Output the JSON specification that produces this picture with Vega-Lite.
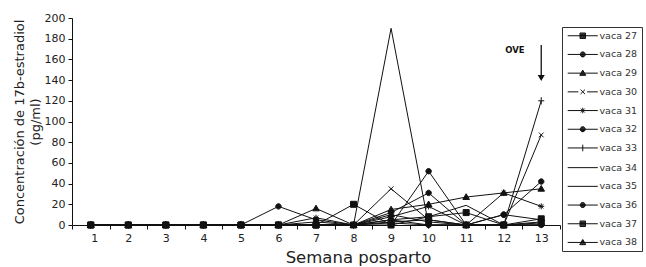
{
  "$schema": "https://vega.github.io/schema/vega-lite/v6.json",
  "width": 488,
  "height": 207,
  "autosize": {"type": "none"},
  "padding": {"left": 72, "top": 18, "right": 86, "bottom": 42},
  "background": "white",
  "config": {
    "view": {"stroke": null},
    "font": "DejaVu Sans",
    "axis": {"domainColor": "#111", "tickColor": "#111", "labelColor": "#222", "titleColor": "#222", "grid": false, "labelFont": "DejaVu Sans", "titleFont": "DejaVu Sans", "titleFontWeight": "normal"}
  },
  "datasets": {
    "main": [
      {"week":1,"cow":"vaca 28","value":0},{"week":2,"cow":"vaca 28","value":0},{"week":3,"cow":"vaca 28","value":0},{"week":4,"cow":"vaca 28","value":0},{"week":5,"cow":"vaca 28","value":0},{"week":6,"cow":"vaca 28","value":18},{"week":7,"cow":"vaca 28","value":5},{"week":8,"cow":"vaca 28","value":0},{"week":9,"cow":"vaca 28","value":5},{"week":10,"cow":"vaca 28","value":0},{"week":11,"cow":"vaca 28","value":0},{"week":12,"cow":"vaca 28","value":0},{"week":13,"cow":"vaca 28","value":0},
      {"week":1,"cow":"vaca 29","value":0},{"week":2,"cow":"vaca 29","value":0},{"week":3,"cow":"vaca 29","value":0},{"week":4,"cow":"vaca 29","value":0},{"week":5,"cow":"vaca 29","value":0},{"week":6,"cow":"vaca 29","value":0},{"week":7,"cow":"vaca 29","value":16},{"week":8,"cow":"vaca 29","value":0},{"week":9,"cow":"vaca 29","value":10},{"week":10,"cow":"vaca 29","value":3},{"week":11,"cow":"vaca 29","value":0},{"week":12,"cow":"vaca 29","value":0},{"week":13,"cow":"vaca 29","value":3},
      {"week":1,"cow":"vaca 30","value":0},{"week":2,"cow":"vaca 30","value":0},{"week":3,"cow":"vaca 30","value":0},{"week":4,"cow":"vaca 30","value":0},{"week":5,"cow":"vaca 30","value":0},{"week":6,"cow":"vaca 30","value":0},{"week":7,"cow":"vaca 30","value":3},{"week":8,"cow":"vaca 30","value":0},{"week":9,"cow":"vaca 30","value":35},{"week":10,"cow":"vaca 30","value":5},{"week":11,"cow":"vaca 30","value":0},{"week":12,"cow":"vaca 30","value":0},{"week":13,"cow":"vaca 30","value":87},
      {"week":1,"cow":"vaca 31","value":0},{"week":2,"cow":"vaca 31","value":0},{"week":3,"cow":"vaca 31","value":0},{"week":4,"cow":"vaca 31","value":0},{"week":5,"cow":"vaca 31","value":0},{"week":6,"cow":"vaca 31","value":0},{"week":7,"cow":"vaca 31","value":7},{"week":8,"cow":"vaca 31","value":0},{"week":9,"cow":"vaca 31","value":8},{"week":10,"cow":"vaca 31","value":18},{"week":11,"cow":"vaca 31","value":0},{"week":12,"cow":"vaca 31","value":31},{"week":13,"cow":"vaca 31","value":18},
      {"week":1,"cow":"vaca 32","value":0},{"week":2,"cow":"vaca 32","value":0},{"week":3,"cow":"vaca 32","value":0},{"week":4,"cow":"vaca 32","value":0},{"week":5,"cow":"vaca 32","value":0},{"week":6,"cow":"vaca 32","value":0},{"week":7,"cow":"vaca 32","value":0},{"week":8,"cow":"vaca 32","value":0},{"week":9,"cow":"vaca 32","value":12},{"week":10,"cow":"vaca 32","value":31},{"week":11,"cow":"vaca 32","value":0},{"week":12,"cow":"vaca 32","value":10},{"week":13,"cow":"vaca 32","value":5},
      {"week":1,"cow":"vaca 33","value":0},{"week":2,"cow":"vaca 33","value":0},{"week":3,"cow":"vaca 33","value":0},{"week":4,"cow":"vaca 33","value":0},{"week":5,"cow":"vaca 33","value":0},{"week":6,"cow":"vaca 33","value":0},{"week":7,"cow":"vaca 33","value":0},{"week":8,"cow":"vaca 33","value":0},{"week":9,"cow":"vaca 33","value":2},{"week":10,"cow":"vaca 33","value":0},{"week":11,"cow":"vaca 33","value":0},{"week":12,"cow":"vaca 33","value":0},{"week":13,"cow":"vaca 33","value":120},
      {"week":1,"cow":"vaca 34","value":0},{"week":2,"cow":"vaca 34","value":0},{"week":3,"cow":"vaca 34","value":0},{"week":4,"cow":"vaca 34","value":0},{"week":5,"cow":"vaca 34","value":0},{"week":6,"cow":"vaca 34","value":0},{"week":7,"cow":"vaca 34","value":0},{"week":8,"cow":"vaca 34","value":0},{"week":9,"cow":"vaca 34","value":190},{"week":10,"cow":"vaca 34","value":0},{"week":11,"cow":"vaca 34","value":0},{"week":12,"cow":"vaca 34","value":0},{"week":13,"cow":"vaca 34","value":0},
      {"week":1,"cow":"vaca 35","value":0},{"week":2,"cow":"vaca 35","value":0},{"week":3,"cow":"vaca 35","value":0},{"week":4,"cow":"vaca 35","value":0},{"week":5,"cow":"vaca 35","value":0},{"week":6,"cow":"vaca 35","value":0},{"week":7,"cow":"vaca 35","value":0},{"week":8,"cow":"vaca 35","value":0},{"week":9,"cow":"vaca 35","value":5},{"week":10,"cow":"vaca 35","value":8},{"week":11,"cow":"vaca 35","value":19},{"week":12,"cow":"vaca 35","value":0},{"week":13,"cow":"vaca 35","value":0},
      {"week":1,"cow":"vaca 36","value":0},{"week":2,"cow":"vaca 36","value":0},{"week":3,"cow":"vaca 36","value":0},{"week":4,"cow":"vaca 36","value":0},{"week":5,"cow":"vaca 36","value":0},{"week":6,"cow":"vaca 36","value":0},{"week":7,"cow":"vaca 36","value":0},{"week":8,"cow":"vaca 36","value":0},{"week":9,"cow":"vaca 36","value":0},{"week":10,"cow":"vaca 36","value":52},{"week":11,"cow":"vaca 36","value":0},{"week":12,"cow":"vaca 36","value":10},{"week":13,"cow":"vaca 36","value":42},
      {"week":1,"cow":"vaca 38","value":0},{"week":2,"cow":"vaca 38","value":0},{"week":3,"cow":"vaca 38","value":0},{"week":4,"cow":"vaca 38","value":0},{"week":5,"cow":"vaca 38","value":0},{"week":6,"cow":"vaca 38","value":0},{"week":7,"cow":"vaca 38","value":0},{"week":8,"cow":"vaca 38","value":0},{"week":9,"cow":"vaca 38","value":15},{"week":10,"cow":"vaca 38","value":20},{"week":11,"cow":"vaca 38","value":27},{"week":12,"cow":"vaca 38","value":31},{"week":13,"cow":"vaca 38","value":35},
      {"week":1,"cow":"vaca 37","value":0},{"week":2,"cow":"vaca 37","value":0},{"week":3,"cow":"vaca 37","value":0},{"week":4,"cow":"vaca 37","value":0},{"week":5,"cow":"vaca 37","value":0},{"week":6,"cow":"vaca 37","value":0},{"week":7,"cow":"vaca 37","value":0},{"week":8,"cow":"vaca 37","value":20},{"week":9,"cow":"vaca 37","value":0},{"week":10,"cow":"vaca 37","value":8},{"week":11,"cow":"vaca 37","value":12},{"week":12,"cow":"vaca 37","value":0},{"week":13,"cow":"vaca 37","value":6},
      {"week":1,"cow":"vaca 27","value":0},{"week":2,"cow":"vaca 27","value":0},{"week":3,"cow":"vaca 27","value":0},{"week":4,"cow":"vaca 27","value":0},{"week":5,"cow":"vaca 27","value":0},{"week":6,"cow":"vaca 27","value":0},{"week":7,"cow":"vaca 27","value":0},{"week":8,"cow":"vaca 27","value":0},{"week":9,"cow":"vaca 27","value":3},{"week":10,"cow":"vaca 27","value":5},{"week":11,"cow":"vaca 27","value":0},{"week":12,"cow":"vaca 27","value":0},{"week":13,"cow":"vaca 27","value":2}
    ],
    "arrow": [{"week": 13, "top": 174, "bottom": 144}],
    "head": [{"week": 13, "value": 142}],
    "label": [{"week": 12.3, "value": 169, "text": "OVE"}]
  },
  "encoding": {
    "x": {
      "field": "week", "type": "quantitative",
      "scale": {"domain": [0.5, 13.5], "nice": false, "zero": false},
      "axis": {
        "title": "Semana posparto", "titleFontSize": 16.5, "titleX": 286, "titlePadding": 6,
        "values": [0.5,1.5,2.5,3.5,4.5,5.5,6.5,7.5,8.5,9.5,10.5,11.5,12.5,13.5],
        "labelExpr": "datum.value < 13 ? format(datum.value + 0.5, 'd') : ''",
        "labelOffset": 18.77, "labelFontSize": 11, "tickSize": 4, "labelPadding": 3
      }
    },
    "y": {
      "field": "value", "type": "quantitative",
      "scale": {"domain": [0, 200], "nice": false},
      "axis": {
        "title": ["Concentración de 17b-estradiol", "(pg/ml)"],
        "titleFontSize": 13, "titleLineHeight": 16, "titlePadding": 2,
        "values": [0,20,40,60,80,100,120,140,160,180,200],
        "labelFontSize": 11, "tickSize": 4, "labelPadding": 3
      }
    }
  },
  "resolve": {"scale": {"shape": "independent"}, "legend": {"shape": "independent"}},
  "layer": [
    {
      "data": {"name": "main"},
      "mark": {"type": "line", "color": "#111", "strokeWidth": 1},
      "encoding": {"detail": {"field": "cow"}}
    },
    {
      "data": {"name": "main"},
      "mark": {"type": "point", "filled": true, "color": "#111", "stroke": "#111", "strokeWidth": 1, "size": 36, "opacity": 1},
      "encoding": {
        "shape": {
          "field": "cow", "type": "nominal",
          "scale": {
            "domain": ["vaca 27","vaca 28","vaca 29","vaca 30","vaca 31","vaca 32","vaca 33","vaca 34","vaca 35","vaca 36","vaca 37","vaca 38"],
            "range": [
              "M-1,-1H1V1H-1Z",
              "M-0.9,0A0.9,0.9,0,1,1,0.9,0A0.9,0.9,0,1,1,-0.9,0Z",
              "M0,-1.1L1.1,0.8H-1.1Z",
              "M-0.8,-0.8L0.8,0.8M0.8,-0.8L-0.8,0.8",
              "M-1,0H1M0,-1V1M-0.7,-0.7L0.7,0.7M0.7,-0.7L-0.7,0.7",
              "M-0.9,0A0.9,0.9,0,1,1,0.9,0A0.9,0.9,0,1,1,-0.9,0Z",
              "M-1,0H1M0,-1.2V1.2",
              "M0,0",
              "M0,0",
              "M-0.9,0A0.9,0.9,0,1,1,0.9,0A0.9,0.9,0,1,1,-0.9,0Z",
              "M-1,-1H1V1H-1Z",
              "M0,-1.1L1.1,0.8H-1.1Z"
            ]
          },
          "legend": null
        }
      }
    },
    {
      "data": {"name": "main"},
      "mark": {"type": "point", "filled": false, "color": "#111", "strokeWidth": 1, "size": 30, "opacity": 0},
      "encoding": {
        "shape": {
          "field": "cow", "type": "nominal",
          "scale": {
            "domain": ["vaca 27","vaca 28","vaca 29","vaca 30","vaca 31","vaca 32","vaca 33","vaca 34","vaca 35","vaca 36","vaca 37","vaca 38"],
            "range": [
              "M-5.5,0H5.5M-1,-1H1V1H-1ZM-1,-0.7H1M-1,-0.4H1M-1,-0.1H1M-1,0.2H1M-1,0.5H1M-1,0.8H1",
              "M-5.5,0H5.5M-0.9,0A0.9,0.9,0,1,1,0.9,0A0.9,0.9,0,1,1,-0.9,0ZM-0.5,-0.75H0.5M-0.77,-0.45H0.77M-0.89,-0.15H0.89M-0.89,0.15H0.89M-0.77,0.45H0.77M-0.5,0.75H0.5",
              "M-5.5,0H5.5M0,-1.1L1.1,0.8H-1.1ZM-0.26,-0.65H0.26M-0.43,-0.35H0.43M-0.61,-0.05H0.61M-0.78,0.25H0.78M-0.95,0.55H0.95",
              "M-5.5,0H-1.6M1.6,0H5.5M-0.8,-0.8L0.8,0.8M0.8,-0.8L-0.8,0.8",
              "M-5.5,0H5.5M0,-1V1M-0.7,-0.7L0.7,0.7M0.7,-0.7L-0.7,0.7",
              "M-5.5,0H5.5M-0.9,0A0.9,0.9,0,1,1,0.9,0A0.9,0.9,0,1,1,-0.9,0ZM-0.5,-0.75H0.5M-0.77,-0.45H0.77M-0.89,-0.15H0.89M-0.89,0.15H0.89M-0.77,0.45H0.77M-0.5,0.75H0.5",
              "M-5.5,0H5.5M0,-1.2V1.2",
              "M-5.5,0H5.5",
              "M-5.5,0H5.5",
              "M-5.5,0H5.5M-0.9,0A0.9,0.9,0,1,1,0.9,0A0.9,0.9,0,1,1,-0.9,0ZM-0.5,-0.75H0.5M-0.77,-0.45H0.77M-0.89,-0.15H0.89M-0.89,0.15H0.89M-0.77,0.45H0.77M-0.5,0.75H0.5",
              "M-5.5,0H5.5M-1,-1H1V1H-1ZM-1,-0.7H1M-1,-0.4H1M-1,-0.1H1M-1,0.2H1M-1,0.5H1M-1,0.8H1",
              "M-5.5,0H5.5M0,-1.1L1.1,0.8H-1.1ZM-0.26,-0.65H0.26M-0.43,-0.35H0.43M-0.61,-0.05H0.61M-0.78,0.25H0.78M-0.95,0.55H0.95"
            ]
          },
          "legend": {
            "title": null, "orient": "none", "legendX": 490, "legendY": 9,
            "padding": 4, "strokeColor": "#333",
            "symbolSize": 30, "symbolOffset": 12, "labelOffset": 12,
            "labelFontSize": 9.5, "labelColor": "#333", "rowPadding": 7.7,
            "symbolStrokeWidth": 1, "symbolStrokeColor": "#111", "symbolOpacity": 1
          }
        }
      }
    },
    {
      "data": {"name": "arrow"},
      "mark": {"type": "rule", "color": "#111", "strokeWidth": 1.3},
      "encoding": {"y": {"field": "top", "type": "quantitative"}, "y2": {"field": "bottom"}}
    },
    {
      "data": {"name": "head"},
      "mark": {"type": "point", "shape": "triangle-down", "filled": true, "color": "#111", "size": 50, "opacity": 1},
      "encoding": {}
    },
    {
      "data": {"name": "label"},
      "mark": {"type": "text", "fontWeight": "bold", "fontSize": 8.5, "color": "#111", "font": "DejaVu Sans"},
      "encoding": {"text": {"field": "text"}}
    }
  ]
}
